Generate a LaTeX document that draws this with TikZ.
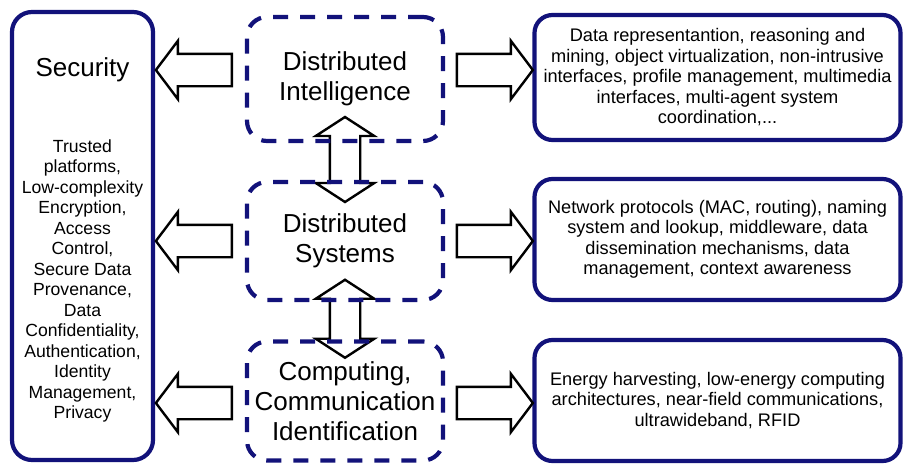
\documentclass[tikz,border=0pt]{standalone}
\usepackage{fontspec}
\setmainfont{Liberation Sans}
\usetikzlibrary{shapes.arrows,backgrounds}
\definecolor{navy}{RGB}{18,18,122}
\newcommand{\bigtext}{\fontsize{26}{30}\selectfont}
\newcommand{\smalltext}{\fontsize{17.6}{20.5}\selectfont}
\newcommand{\boxtext}{\fontsize{18.2}{20.5}\selectfont}
\tikzset{
  solidbox/.style={draw=navy,line width=4.2pt,rounded corners=18pt,minimum width=366pt,align=center,font=\boxtext},
  dashbox/.style={draw=navy,line width=4.2pt,dash pattern=on 15pt off 12pt,rounded corners=20pt,minimum width=196pt,align=center,font=\bigtext},
  fatarrow/.style={single arrow,draw=black,fill=white,line width=2.4pt,inner xsep=0pt,inner ysep=15pt,minimum width=56pt,minimum height=76pt,single arrow head extend=13pt,single arrow tip angle=106},
  vdouble/.style={double arrow,draw=black,line width=2.4pt,inner xsep=0pt,inner ysep=14pt,minimum width=56pt,double arrow head extend=14pt,double arrow tip angle=114,rotate=90}
}
\begin{document}
\begin{tikzpicture}[x=1pt,y=-1pt]
  \useasboundingbox (0,0) rectangle (904,466);
  % left column
  \node[draw=navy,line width=4.2pt,rounded corners=20pt,minimum width=141pt,minimum height=448pt] (sec) at (82.5,236) {};
  \node[font=\bigtext] (sectitle) at (82.5,70) {Security};
  \node[font=\smalltext,align=center] (seclist) at (82.5,281) {Trusted\\platforms,\\Low-complexity\\Encryption,\\Access\\Control,\\Secure Data\\Provenance,\\Data\\Confidentiality,\\Authentication,\\Identity\\Management,\\Privacy};
  % middle column
  \node[dashbox,minimum height=124pt] (di) at (345,79) {Distributed\\Intelligence};
  \node[dashbox,minimum height=118pt] (ds) at (345,241) {Distributed\\Systems};
  \node[dashbox,minimum height=119pt] (cci) at (345,401) {Computing,\\Communication\\Identification};
  % right column
  \node[solidbox,minimum height=125pt] (r1) at (717.5,77.5) {Data representantion, reasoning and\\mining, object virtualization, non-intrusive\\interfaces, profile management, multimedia\\interfaces, multi-agent system\\coordination,...};
  \node[solidbox,minimum height=121pt] (r2) at (717.5,239.5) {Network protocols (MAC, routing), naming\\system and lookup, middleware, data\\dissemination mechanisms, data\\management, context awareness};
  \node[solidbox,minimum height=121pt] (r3) at (717.5,400.5) {Energy harvesting, low-energy computing\\architectures, near-field communications,\\ultrawideband, RFID};
  % arrows to the left
  \path (sec.east |- di.west) -- (di.west) node[midway,yshift=9pt,fatarrow,rotate=180] (la1) {};
  \path (sec.east |- ds.west) -- (ds.west) node[midway,fatarrow,rotate=180] (la2) {};
  \path (sec.east |- cci.west) -- (cci.west) node[midway,yshift=-2pt,fatarrow,rotate=180] (la3) {};
  % arrows to the right
  \path (di.east) -- (r1.west |- di.east) node[midway,yshift=9pt,fatarrow] (ra1) {};
  \path (ds.east) -- (r2.west |- ds.east) node[midway,fatarrow] (ra2) {};
  \path (cci.east) -- (r3.west |- cci.east) node[midway,yshift=-2pt,fatarrow] (ra3) {};
  % up and down
  \begin{scope}[on background layer]
    \path (di.south) -- (ds.north) node[midway,yshift=2pt,vdouble,minimum height=85pt] (ud1) {};
    \path (ds.south) -- (cci.north) node[midway,yshift=2pt,vdouble,minimum height=78pt] (ud2) {};
  \end{scope}
\end{tikzpicture}
\end{document}
